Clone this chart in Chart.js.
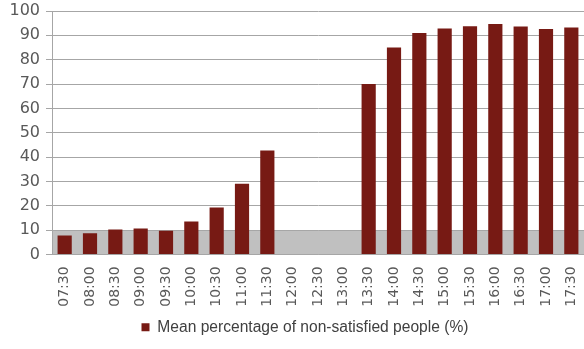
<!DOCTYPE html>
<html>
<head>
<meta charset="utf-8">
<script src="https://cdn.jsdelivr.net/npm/chart.js@4.4.1/dist/chart.umd.min.js"></script>
<style>
  html, body { margin: 0; padding: 0; background: #fff; }
  #wrap { width: 584px; height: 349px; position: relative; }
</style>
</head>
<body>
<div id="wrap"><canvas id="chart"></canvas></div>
<script>
// --- DATOS ---
const horas = ['07:30', '08:00', '08:30', '09:00', '09:30', '10:00', '10:30', '11:00', '11:30',
               '12:00', '12:30', '13:00', '13:30', '14:00', '14:30', '15:00', '15:30', '16:00',
               '16:30', '17:00', '17:30'];
const porcentajes = [7.8, 8.7, 10.2, 10.6, 9.7, 13.5, 19.3, 29, 42.7,
                     0, 0, 0, 70, 85, 91, 92.8, 93.7, 94.7, 93.6, 92.6, 93.2];
const serieNombre = 'Mean percentage of non-satisfied people (%)';
const yMin = 0, yMax = 100, yPaso = 10;
const bandaLimite = 10; // franja gris de 0 a 10

// --- PLUGIN: franja gris de fondo ---
const bandaGris = {
    id: 'bandaGris',
    beforeDraw(chart) {
        const { ctx, chartArea, scales } = chart;
        const yTop = scales.y.getPixelForValue(bandaLimite);
        const yBot = scales.y.getPixelForValue(yMin);
        ctx.save();
        ctx.fillStyle = '#c0c0c0';
        ctx.fillRect(chartArea.left, yTop, chartArea.right - chartArea.left, yBot - yTop);
        ctx.restore();
    }
};

// --- PLUGIN: desplazar un poco la leyenda a la derecha ---
const moverLeyenda = {
    id: 'moverLeyenda',
    afterLayout(chart) {
        if (chart.legend) {
            chart.legend.left += 13;
            chart.legend.right += 13;
        }
    }
};

const gris = '#a6a6a6';

new Chart(document.getElementById('chart'), {
    type: 'bar',
    data: {
        labels: horas,
        datasets: [{
            label: serieNombre,
            data: porcentajes,
            backgroundColor: '#771a14',
            borderWidth: 0,
            barPercentage: 0.56,
            categoryPercentage: 1
        }]
    },
    options: {
        responsive: true,
        maintainAspectRatio: false,
        animation: false,
        layout: { padding: { top: 0, right: 0, left: 0, bottom: 4 } },
        plugins: {
            tooltip: { enabled: false },
            legend: {
                position: 'bottom',
                labels: {
                    boxWidth: 8,
                    boxHeight: 8,
                    padding: 10,
                    color: '#404040',
                    font: { family: 'Liberation Sans', size: 15.6 }
                }
            }
        },
        scales: {
            x: {
                grid: { display: false },
                border: { display: true, color: gris, width: 1 },
                ticks: {
                    color: '#595959',
                    font: { family: 'DejaVu Sans', size: 14 },
                    minRotation: 90,
                    maxRotation: 90,
                    autoSkip: false,
                    padding: 4
                },
                afterFit(scale) {
                    scale.height = 55;
                    scale.paddingLeft = 0;
                    scale.paddingRight = 0;
                }
            },
            y: {
                min: yMin,
                max: yMax,
                ticks: {
                    stepSize: yPaso,
                    color: '#595959',
                    font: { family: 'DejaVu Sans', size: 16 },
                    padding: 6
                },
                grid: { color: gris, lineWidth: 1, tickLength: 6, drawTicks: true },
                border: { display: true, color: gris, width: 1 },
                afterFit(scale) {
                    scale.width = 52;
                    scale.paddingTop = 11;
                }
            }
        }
    },
    plugins: [bandaGris, moverLeyenda]
});
</script>
</body>
</html>
